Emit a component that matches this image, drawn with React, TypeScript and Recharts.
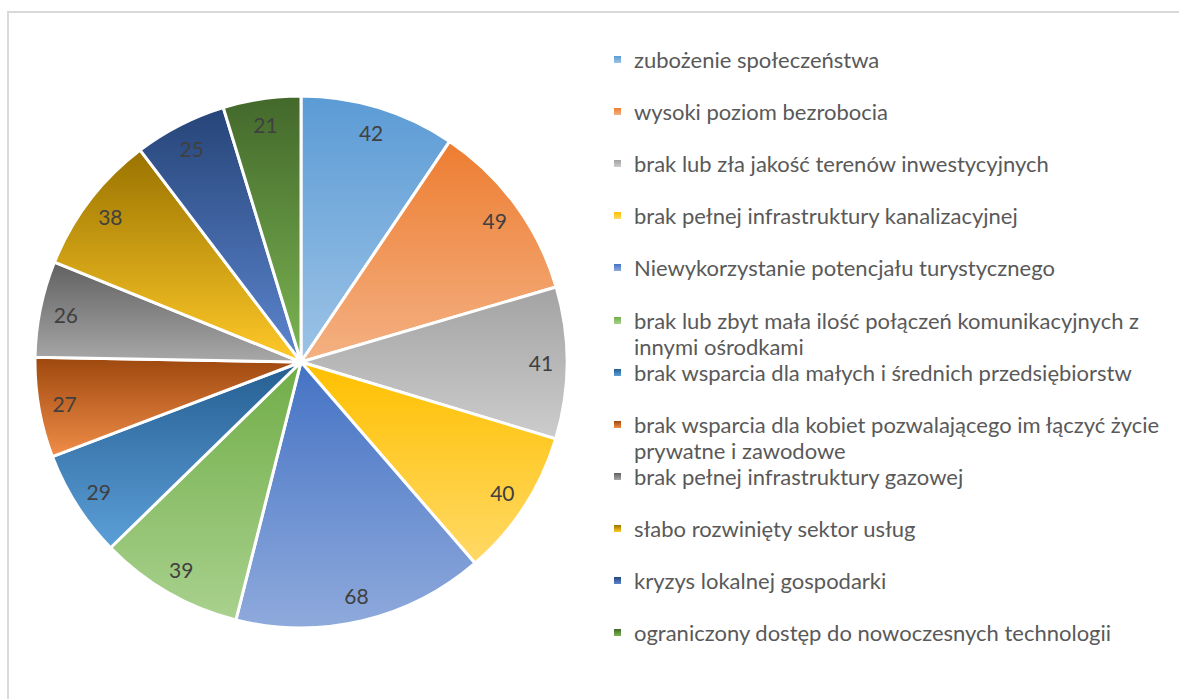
import React from "react";
import { PieChart, Pie, Cell, Legend } from "recharts";

const categories = [
  "zubożenie społeczeństwa",
  "wysoki poziom bezrobocia",
  "brak lub zła jakość terenów inwestycyjnych",
  "brak pełnej infrastruktury kanalizacyjnej",
  "Niewykorzystanie potencjału turystycznego",
  "brak lub zbyt mała ilość połączeń komunikacyjnych z\ninnymi ośrodkami",
  "brak wsparcia dla małych i średnich przedsiębiorstw",
  "brak wsparcia dla kobiet pozwalającego im łączyć życie\nprywatne i zawodowe",
  "brak pełnej infrastruktury gazowej",
  "słabo rozwinięty sektor usług",
  "kryzys lokalnej gospodarki",
  "ograniczony dostęp do nowoczesnych technologii",
];

const values = [42, 49, 41, 40, 68, 39, 29, 27, 26, 38, 25, 21];

// kolory gradientu: góra -> dół
const topColors = [
  "#5b9bd5", "#ed7d31", "#a3a3a3", "#ffc000", "#4472c4", "#70ad47",
  "#255e91", "#9e480e", "#606060", "#997300", "#264478", "#43682b",
];
const bottomColors = [
  "#9dc3e6", "#f4b183", "#cccccc", "#ffd966", "#8faadc", "#a9d18e",
  "#5c9fd8", "#f08d48", "#a8a8a8", "#ffc928", "#5d86cf", "#7cb553",
];

const data = categories.map((name, i) => ({ name, value: values[i] }));

const RADIAN = Math.PI / 180;

const renderLabel = (props: any) => {
  const { cx, cy, midAngle, value } = props;
  const r = 240;
  const x = cx + r * Math.cos(-midAngle * RADIAN);
  const y = cy + r * Math.sin(-midAngle * RADIAN);
  return (
    <text
      x={x}
      y={y}
      fill="#404040"
      fontSize={21}
      fontFamily="Lato, sans-serif"
      textAnchor="middle"
      dominantBaseline="central"
    >
      {value}
    </text>
  );
};

const renderLegend = () => (
  <div style={{ position: "relative", width: 570, height: 640 }}>
    {categories.map((name, i) => (
      <div
        key={name}
        style={{
          position: "absolute",
          left: 0,
          top: i * 52.1,
          display: "flex",
          alignItems: "flex-start",
        }}
      >
        <svg width={22} height={26} style={{ flexShrink: 0 }}>
          <rect x={2} y={9} width={7} height={7} fill={`url(#g${i})`} />
        </svg>
        <div
          style={{
            fontFamily: "Lato, sans-serif",
            fontSize: 22,
            lineHeight: "26px",
            color: "#595959",
            whiteSpace: "pre-line",
          }}
        >
          {name}
        </div>
      </div>
    ))}
  </div>
);

export default function App() {
  return (
    <div
      style={{
        position: "absolute",
        left: 0,
        top: 0,
        width: 1179,
        height: 699,
        background: "#fff",
        overflow: "hidden",
      }}
    >
      <div
        style={{
          position: "absolute",
          left: 7,
          top: 11,
          width: 1190,
          height: 710,
          border: "2px solid #d9d9d9",
        }}
      />
      <svg width={0} height={0} style={{ position: "absolute" }}>
        <defs>
          {topColors.map((c, i) => (
            <linearGradient key={i} id={`g${i}`} x1="0" y1="0" x2="0" y2="1">
              <stop offset="0%" stopColor={c} />
              <stop offset="100%" stopColor={bottomColors[i]} />
            </linearGradient>
          ))}
        </defs>
      </svg>
      <div style={{ position: "absolute", left: 0, top: 0 }}>
        <PieChart
          width={1179}
          height={699}
          margin={{ top: 0, right: 0, bottom: 0, left: 0 }}
        >
          <Pie
            data={data}
            dataKey="value"
            nameKey="name"
            cx={301}
            cy={362}
            outerRadius={266}
            startAngle={90}
            endAngle={-270}
            stroke="#ffffff"
            strokeWidth={3}
            label={renderLabel}
            labelLine={false}
            isAnimationActive={false}
          >
            {data.map((d, i) => (
              <Cell key={d.name} fill={`url(#g${i})`} />
            ))}
          </Pie>
          <Legend
            layout="vertical"
            align="right"
            verticalAlign="top"
            content={renderLegend}
            wrapperStyle={{ left: 612, top: 47, width: 570 }}
          />
        </PieChart>
      </div>
    </div>
  );
}
